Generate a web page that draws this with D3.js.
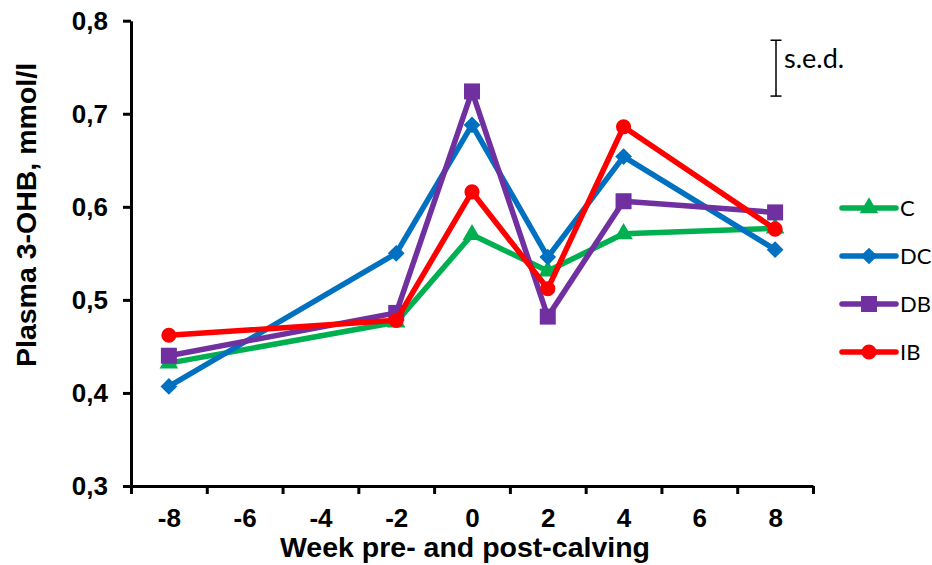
<!DOCTYPE html>
<meta charset="utf-8">
<head>
  <style>
    body { margin: 0; background: #fff; }
    .tick-label { font-family: "Liberation Sans", Arial, sans-serif; font-weight: bold; font-size: 26px; }
    .axis-title { font-family: "Liberation Sans", Arial, sans-serif; font-weight: bold; font-size: 28.5px; }
    .legend-text { font-family: Lato, "Open Sans", sans-serif; font-size: 22px; }
  </style>
</head>
<body>
<div id="my_dataviz"></div>
<script src="https://d3js.org/d3.v7.min.js"></script>
<script>

  // weeks that have data
  var weeks = [-8, -2, 0, 2, 4, 8];
  // category labels of the x axis
  var weekLabels = [-8, -6, -4, -2, 0, 2, 4, 6, 8];
  var yTicks = [0.3, 0.4, 0.5, 0.6, 0.7, 0.8];

  // series values (Plasma 3-OHB, mmol/l)
  var seriesNames = ["C", "DC", "DB", "IB"];
  var valuesC  = [0.432, 0.476, 0.570, 0.531, 0.571, 0.577];
  var valuesDC = [0.407, 0.550, 0.688, 0.546, 0.654, 0.554];
  var valuesDB = [0.440, 0.486, 0.724, 0.482, 0.606, 0.594];
  var valuesIB = [0.462, 0.478, 0.616, 0.512, 0.686, 0.576];

  // s.e.d. bar
  var sedTop = 0.779;
  var sedValue = 0.06;

  var colors = {C: "#00B050", DC: "#0070C0", DB: "#7030A0", IB: "#FF0000"};
  var values = {C: valuesC, DC: valuesDC, DB: valuesDB, IB: valuesIB};

  var width = 932, height = 565;
  var plotLeft = 131, plotRight = 813, plotTop = 20.7, plotBottom = 486;

  var svg = d3.select("#my_dataviz")
    .append("svg")
      .attr("width", width)
      .attr("height", height);

  // band-like x axis: categories sit between the tick marks
  var x = d3.scaleLinear().domain([-9, 9]).range([plotLeft, plotRight]);
  var y = d3.scaleLinear().domain([0.3, 0.8]).range([plotBottom, plotTop]);

  var fmt = d3.formatLocale({decimal: ",", thousands: ".", grouping: [3], currency: ["", ""]}).format(".1f");

  // y axis
  var yAxis = svg.append("g")
    .attr("transform", "translate(" + plotLeft + ",0)")
    .call(d3.axisLeft(y).tickValues(yTicks).tickFormat(fmt).tickSize(8).tickPadding(15).tickSizeOuter(0));
  yAxis.select(".domain").attr("stroke", "#000").attr("stroke-width", 3);
  yAxis.selectAll(".tick line").attr("stroke", "#000").attr("stroke-width", 3);
  yAxis.selectAll(".tick text").attr("class", "tick-label").attr("fill", "#000");

  // x axis: tick marks at category boundaries
  var xAxis = svg.append("g")
    .attr("transform", "translate(0," + plotBottom + ")")
    .call(d3.axisBottom(x).tickValues(d3.range(-9, 10, 2)).tickFormat("").tickSize(8).tickSizeOuter(0));
  xAxis.select(".domain").attr("stroke", "#000").attr("stroke-width", 3);
  xAxis.selectAll(".tick line").attr("stroke", "#000").attr("stroke-width", 3);

  // x labels at category centres
  var xLabels = svg.append("g")
    .attr("transform", "translate(0," + plotBottom + ")")
    .call(d3.axisBottom(x).tickValues(weekLabels).tickFormat(function(d) { return String(d); }).tickSize(0).tickPadding(23));
  xLabels.select(".domain").remove();
  xLabels.selectAll(".tick text").attr("class", "tick-label").attr("fill", "#000");

  // axis titles
  svg.append("text")
    .attr("class", "axis-title")
    .attr("text-anchor", "middle")
    .attr("x", 465)
    .attr("y", 557)
    .text("Week pre- and post-calving");

  svg.append("text")
    .attr("class", "axis-title")
    .attr("text-anchor", "middle")
    .attr("transform", "translate(36," + 215 + ") rotate(-90)")
    .text("Plasma 3-OHB, mmol/l");

  // markers
  function markerPath(name) {
    if (name === "C") return d3.symbol().type(d3.symbolTriangle).size(150)();
    if (name === "DC") return d3.symbol().type(d3.symbolSquare).size(140)();
    if (name === "DB") return d3.symbol().type(d3.symbolSquare).size(256)();
    return d3.symbol().type(d3.symbolCircle).size(180)();
  }
  function markerRotate(name) { return name === "DC" ? " rotate(45)" : ""; }

  var line = d3.line()
    .x(function(d) { return x(d.week); })
    .y(function(d) { return y(d.value); });

  seriesNames.forEach(function(name) {
    var data = weeks.map(function(w, i) { return {week: w, value: values[name][i]}; });
    var g = svg.append("g");
    g.append("path")
      .datum(data)
      .attr("fill", "none")
      .attr("stroke", colors[name])
      .attr("stroke-width", 5.5)
      .attr("stroke-linejoin", "round")
      .attr("d", line);
    g.selectAll("path.marker")
      .data(data)
      .enter()
      .append("path")
        .attr("class", "marker")
        .attr("fill", colors[name])
        .attr("transform", function(d) { return "translate(" + x(d.week) + "," + y(d.value) + ")" + markerRotate(name); })
        .attr("d", markerPath(name));
  });

  // s.e.d. bar
  var sed = svg.append("g").attr("stroke", "#000").attr("stroke-width", 1.5);
  sed.append("line").attr("x1", 776).attr("x2", 776).attr("y1", y(sedTop)).attr("y2", y(sedTop - sedValue));
  sed.append("line").attr("x1", 770.5).attr("x2", 781.5).attr("y1", y(sedTop)).attr("y2", y(sedTop));
  sed.append("line").attr("x1", 770.5).attr("x2", 781.5).attr("y1", y(sedTop - sedValue)).attr("y2", y(sedTop - sedValue));
  svg.append("text")
    .attr("class", "legend-text")
    .style("font-size", "27px")
    .attr("x", 784)
    .attr("y", 68)
    .text("s.e.d.");

  // legend
  var legend = svg.selectAll(".legend")
    .data(seriesNames)
    .enter()
    .append("g")
      .attr("class", "legend")
      .attr("transform", function(d, i) { return "translate(0," + (208 + i * 48) + ")"; });
  legend.append("line")
    .attr("x1", 842).attr("x2", 896)
    .attr("stroke", function(d) { return colors[d]; })
    .attr("stroke-width", 5.5)
    .attr("stroke-linecap", "round");
  legend.append("path")
    .attr("fill", function(d) { return colors[d]; })
    .attr("transform", function(d) { return "translate(869,0)" + markerRotate(d); })
    .attr("d", function(d) { return markerPath(d); });
  legend.append("text")
    .attr("class", "legend-text")
    .attr("x", 900)
    .attr("y", 8)
    .text(function(d) { return d; });

</script>
</body>
